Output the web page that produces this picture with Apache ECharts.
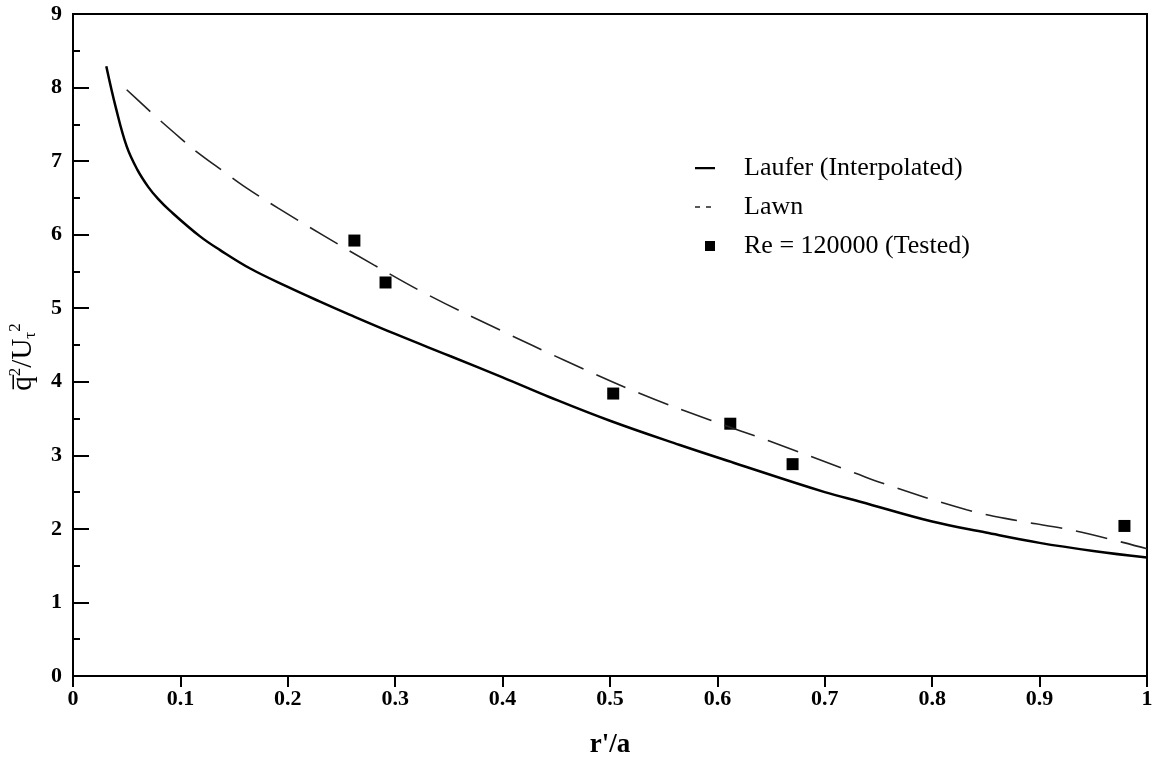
<!DOCTYPE html>
<html>
<head>
<meta charset="utf-8">
<script src="https://cdn.jsdelivr.net/npm/echarts@6/dist/echarts.min.js"></script>
<style>
html, body { margin: 0; padding: 0; background: #fff; }
#chart { width: 1157px; height: 757px; }
</style>
</head>
<body>
<div id="chart"></div>
<script>
// Laufer (interpolated) curve, [r'/a, q^2/U^2]
var lauferData = [
	[0.031, 8.29], [0.04, 7.72], [0.05, 7.2], [0.06, 6.88], [0.07, 6.65], [0.079, 6.49], [0.09, 6.33],
	[0.118, 5.98], [0.137, 5.79], [0.165, 5.54], [0.2, 5.29], [0.23, 5.09], [0.258, 4.91],
	[0.3, 4.65], [0.351, 4.35], [0.4, 4.06], [0.444, 3.79], [0.5, 3.47], [0.565, 3.14],
	[0.615, 2.9], [0.7, 2.5], [0.733, 2.37], [0.8, 2.1], [0.85, 1.95], [0.9, 1.81],
	[0.95, 1.7], [1.0, 1.61]
];
// Lawn curve
var lawnData = [
	[0.05, 7.97], [0.067, 7.74], [0.079, 7.58], [0.101, 7.3], [0.114, 7.14], [0.14, 6.86],
	[0.159, 6.66], [0.191, 6.36], [0.233, 5.99], [0.28, 5.59], [0.332, 5.17], [0.398, 4.7],
	[0.458, 4.29], [0.528, 3.84], [0.593, 3.48], [0.649, 3.19], [0.728, 2.76], [0.754, 2.62],
	[0.832, 2.26], [0.88, 2.11], [0.931, 1.98], [1.0, 1.73]
];
// Re = 120000 measured points
var testedData = [
	[0.262, 5.92], [0.291, 5.35], [0.503, 3.84], [0.612, 3.43], [0.670, 2.88], [0.979, 2.04]
];
var seriesNames = ['Laufer (Interpolated)', 'Lawn', 'Re = 120000 (Tested)'];

// legend icons, all drawn in a 20x14 box
var boxCorners = 'M0,0 L0.01,0 L0,0.01 Z M20,14 L19.99,14 L20,13.99 Z ';
var iconSolid = 'path://' + boxCorners + 'M0,6 L20,6 L20,8.2 L0,8.2 Z';
var iconDash = 'path://' + boxCorners + 'M0,6.3 L5,6.3 L5,7.8 L0,7.8 Z M11,6.3 L16,6.3 L16,7.8 L11,7.8 Z';
var iconSquare = 'path://' + boxCorners + 'M10,2 L20,2 L20,12 L10,12 Z';

var chart = echarts.init(document.getElementById('chart'));

var serif = 'Liberation Serif';
var option = {
	backgroundColor: '#fff',
	animation: false,
	grid: {
		left: 73,
		right: 10,
		top: 14,
		bottom: 81,
		outerBoundsMode: 'none',
		containLabel: false,
		show: true,
		borderColor: '#000',
		borderWidth: 2
	},
	legend: {
		orient: 'vertical',
		left: 690,
		top: 150,
		itemWidth: 20,
		itemHeight: 14,
		itemGap: 13,
		textStyle: {
			fontFamily: serif,
			fontSize: 26,
			color: '#000',
			lineHeight: 26,
			padding: [0, 0, 0, 24]
		},
		data: [
			{ name: seriesNames[0], icon: iconSolid },
			{ name: seriesNames[1], icon: iconDash },
			{ name: seriesNames[2], icon: iconSquare }
		]
	},
	xAxis: {
		type: 'value',
		min: 0,
		max: 1,
		interval: 0.1,
		name: "r'/a",
		nameLocation: 'middle',
		nameGap: 56,
		nameTextStyle: { fontFamily: serif, fontWeight: 'bold', fontSize: 27, color: '#000' },
		axisLine: { lineStyle: { color: '#000', width: 2 } },
		axisTick: { inside: false, length: 11, lineStyle: { color: '#000', width: 2 } },
		axisLabel: { margin: 12, fontFamily: serif, fontWeight: 'bold', fontSize: 22, color: '#000' },
		splitLine: { show: false }
	},
	yAxis: {
		type: 'value',
		min: 0,
		max: 9,
		interval: 1,
		name: '{a|q\u0305}{sup|2}{a|/U}{sub|τ}{sup|2}',
		nameLocation: 'middle',
		nameGap: 34,
		nameTextStyle: {
			fontFamily: serif,
			fontSize: 28,
			color: '#000',
			padding: [0, 24, 0, 0],
			rich: {
				a: { fontFamily: serif, fontSize: 29, color: '#000', lineHeight: 32 },
				sup: { fontFamily: serif, fontSize: 17, color: '#000', verticalAlign: 'top', lineHeight: 32 },
				sub: { fontFamily: serif, fontSize: 17, color: '#000', verticalAlign: 'bottom', lineHeight: 32 }
			}
		},
		axisLine: { show: true, lineStyle: { color: '#000', width: 2 } },
		axisTick: { inside: true, length: 16, lineStyle: { color: '#000', width: 2 } },
		minorTick: { show: true, splitNumber: 2, length: 7, lineStyle: { color: '#000', width: 2 } },
		axisLabel: { margin: 11, fontFamily: serif, fontWeight: 'bold', fontSize: 22, color: '#000' },
		splitLine: { show: false }
	},
	series: [
		{
			name: seriesNames[0],
			type: 'line',
			data: lauferData,
			smooth: 0.4,
			showSymbol: false,
			symbol: 'none',
			lineStyle: { color: '#000', width: 2.5 },
			itemStyle: { color: '#000' }
		},
		{
			name: seriesNames[1],
			type: 'line',
			data: lawnData,
			smooth: 0.4,
			showSymbol: false,
			symbol: 'none',
			lineStyle: { color: '#222', width: 1.6, type: [32, 14] },
			itemStyle: { color: '#222' }
		},
		{
			name: seriesNames[2],
			type: 'scatter',
			data: testedData,
			symbol: 'rect',
			symbolSize: 12,
			itemStyle: { color: '#000', opacity: 1 }
		}
	]
};

chart.setOption(option);
window.addEventListener("resize", function() {
	chart.resize();
});
</script>
</body>
</html>
